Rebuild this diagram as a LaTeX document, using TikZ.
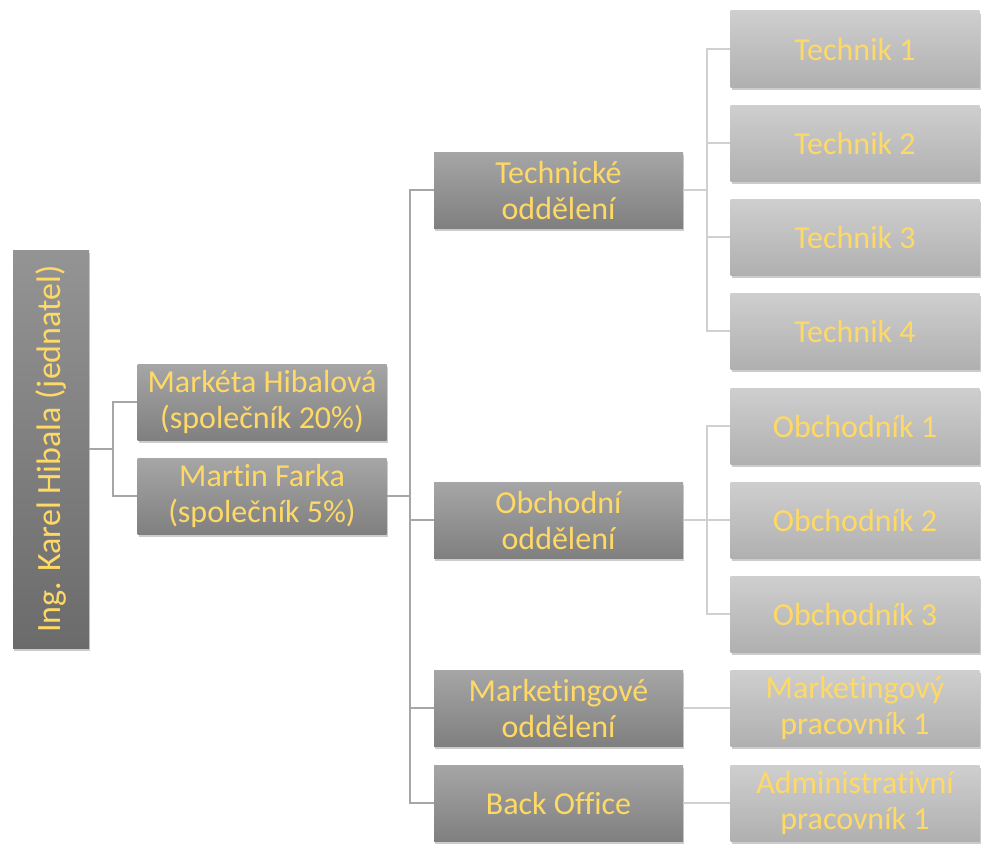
\documentclass[tikz,border=0pt]{standalone}
\usepackage{fontspec}
\setmainfont{Carlito}[Ligatures = NoCommon]
\usetikzlibrary{shadows}
\definecolor{zlata}{HTML}{FFD966}
\definecolor{spoj}{HTML}{A6A6A6}
\definecolor{spojsv}{HTML}{D0D0D0}
\tikzset{
	vedouci/.style = {rectangle, top color = black!35, bottom color = black!50, text = zlata,
		minimum width = 249pt, minimum height = 76pt, inner sep = 1pt, align = center,
		font = \fontsize{32}{36}\selectfont,
		drop shadow = {shadow xshift = 1pt, shadow yshift = -3pt, opacity = 0.4}},
	pracovnik/.style = {vedouci, top color = black!19, bottom color = black!31},
	reditel/.style = {vedouci, top color = black!42, bottom color = black!58,
		minimum width = 76pt, minimum height = 398pt, font = \fontsize{34}{40}\selectfont},
	spojnice/.style = {draw = spoj, line width = 2pt},
	spojnicesv/.style = {draw = spojsv, line width = 2pt}
}
\begin{document}
\begin{tikzpicture}[x = 1pt, y = -1pt]
		\useasboundingbox (0, 0) rectangle (981, 843);
		%%%%%%%%%%%%%
		\node [reditel] (hibala) at (51, 449) {\rotatebox{90}{Ing. Karel Hibala (jednatel)}};
		\node [vedouci] (hibalova) at (262, 402) {Markéta Hibalová\\(společník 20\%)};
		\node [vedouci] (farka) at (262, 496) {Martin Farka\\(společník 5\%)};
		%%%%%%%%%%%%%
		\node [vedouci] (tech) at (558.5, 190) {Technické\\oddělení};
		\node [vedouci] (obch) at (558.5, 520) {Obchodní\\oddělení};
		\node [vedouci] (mark) at (558.5, 708) {Marketingové\\oddělení};
		\node [vedouci] (back) at (558.5, 803) {Back Office};
		%%%%%%%%%%%%%
		\foreach \i/\y in {1/49, 2/143, 3/237, 4/331}
			\node [pracovnik] (technik\i) at (855, \y) {Technik \i};
		\foreach \i/\y in {1/426, 2/520, 3/614}
			\node [pracovnik] (obchodnik\i) at (855, \y) {Obchodník \i};
		\node [pracovnik] (markprac) at (855, 708) {Marketingový\\pracovník 1};
		\node [pracovnik] (admin) at (855, 803) {Administrativní\\pracovník 1};
		%%%%%%%%%%%%%
		\coordinate (u1) at (113, 449);
		\coordinate (u2) at (410, 496);
		\coordinate (u3) at (707, 190);
		\coordinate (u4) at (707, 520);
		%%%%%%%%%%%%%
		\draw [spojnice] (hibala) to (u1);
		\draw [spojnice] (u1) |- (hibalova); \draw [spojnice] (u1) |- (farka);
		\draw [spojnice] (farka) to (u2);
		\draw [spojnice] (u2) |- (tech); \draw [spojnice] (u2) |- (obch);
		\draw [spojnice] (u2) |- (mark); \draw [spojnice] (u2) |- (back);
		\draw [spojnicesv] (tech) to (u3);
		\foreach \i in {1, ..., 4}
			\draw [spojnicesv] (u3) |- (technik\i);
		\draw [spojnicesv] (obch) to (u4);
		\foreach \i in {1, ..., 3}
			\draw [spojnicesv] (u4) |- (obchodnik\i);
		\draw [spojnicesv] (mark) to (markprac);
		\draw [spojnicesv] (back) to (admin);
\end{tikzpicture}
\end{document}
